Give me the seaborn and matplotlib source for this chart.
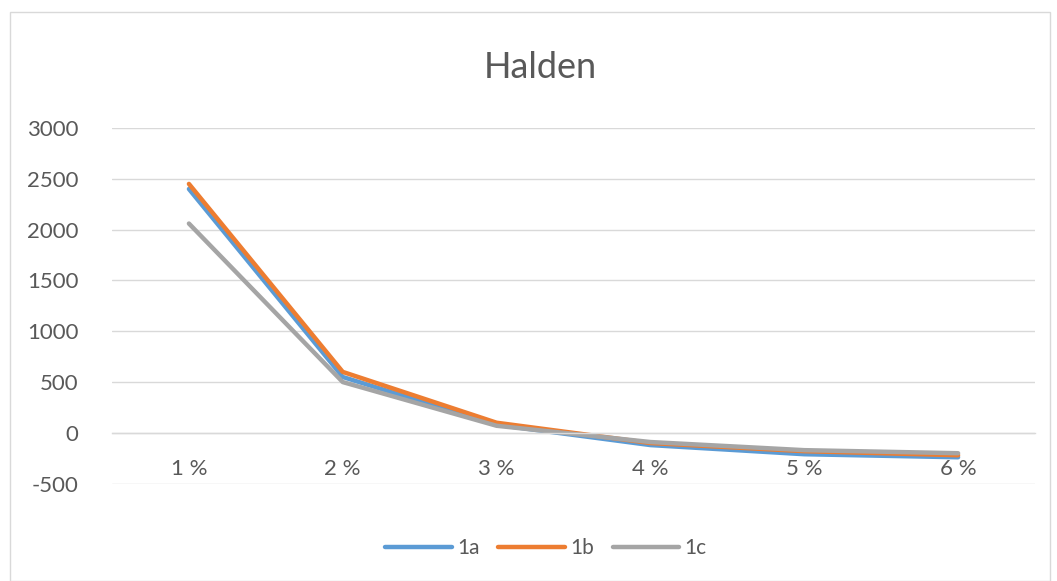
import matplotlib
matplotlib.use("Agg")
import matplotlib.pyplot as plt
from matplotlib.patches import Rectangle
import seaborn as sns
import pandas as pd

categories = ["1 %", "2 %", "3 %", "4 %", "5 %", "6 %"]
series_1a = [2400, 550, 80, -120, -210, -240]
series_1b = [2450, 600, 100, -100, -180, -220]
series_1c = [2060, 500, 70, -90, -170, -200]
series_names = ["1a", "1b", "1c"]
colors = ["#5B9BD5", "#ED7D31", "#A5A5A5"]

rows = []
for name, vals in zip(series_names, [series_1a, series_1b, series_1c]):
    for i, v in enumerate(vals):
        rows.append({"pos": i, "value": v, "series": name})
df = pd.DataFrame(rows)

sns.set_style("white")
plt.rcParams["font.family"] = ["Lato", "DejaVu Sans"]
plt.rcParams["axes.unicode_minus"] = False
text_col = "#595959"
grid_col = "#D9D9D9"

fig = plt.figure(figsize=(10.57, 5.81), dpi=100)
ax = fig.add_axes([112 / 1057, 97 / 581, 923 / 1057, 356 / 581])

sns.lineplot(data=df, x="pos", y="value", hue="series", palette=colors,
             linewidth=3.2, ax=ax, legend=False, sort=False)

ax.set_xlim(-0.5, len(categories) - 0.5)
ax.set_ylim(-503, 3000)
ax.set_yticks(range(-500, 3001, 500))
ax.set_xticks(range(len(categories)))
ax.set_xticklabels(categories)
ax.set_xlabel("")
ax.set_ylabel("")

for s in ["left", "right", "top"]:
    ax.spines[s].set_visible(False)
ax.spines["bottom"].set_position(("data", 0))
ax.spines["bottom"].set_color(grid_col)
ax.spines["bottom"].set_linewidth(1)
ax.yaxis.grid(True, color=grid_col, linewidth=1)
ax.set_axisbelow(True)
ax.tick_params(axis="both", length=0, labelsize=16, colors=text_col)
ax.tick_params(axis="x", pad=19)
ax.tick_params(axis="y", pad=24)

fig.text(540 / 1057, 1 - 68 / 581, "Halden", ha="center", va="center",
         fontsize=26, color=text_col)

handles = [plt.Line2D([0], [0], color=c, linewidth=3.2, solid_capstyle="round")
           for c in colors]
fig.legend(handles, series_names, loc="center", bbox_to_anchor=(546 / 1057, 1 - 548 / 581),
           ncol=3, frameon=False, fontsize=15, labelcolor=text_col,
           handlelength=3.2, handletextpad=0.25, columnspacing=0.9)

fig.patches.append(Rectangle((10 / 1057, 0), 1040 / 1057, 1 - 12 / 581,
                             transform=fig.transFigure, fill=False,
                             edgecolor=grid_col, linewidth=1))

fig.savefig("out.png", dpi=100, facecolor="white")
